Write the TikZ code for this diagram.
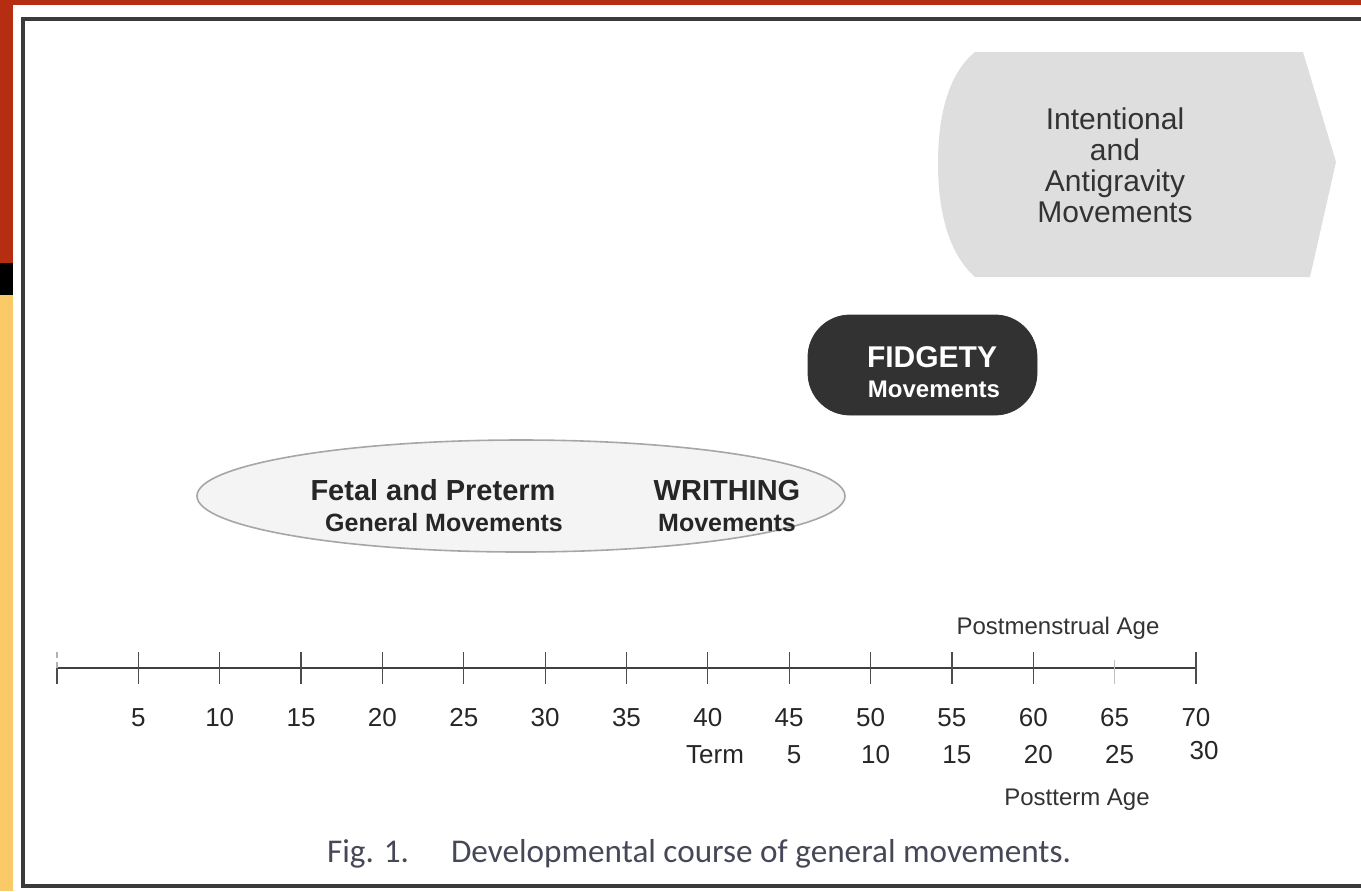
\documentclass[tikz,border=0pt]{standalone}
\usepackage{fontspec}
\setmainfont{Liberation Sans}
\newfontfamily\capfont{Carlito}
\usetikzlibrary{shapes.geometric,positioning}

\definecolor{slidered}{RGB}{181,46,18}
\definecolor{slideyellow}{RGB}{250,202,104}
\definecolor{framegray}{RGB}{58,58,58}
\definecolor{capgray}{RGB}{70,72,88}
\definecolor{stipple}{RGB}{222,222,222}
\definecolor{palestipple}{RGB}{244,244,244}
\definecolor{darkpill}{RGB}{50,50,50}

\begin{document}
\begin{tikzpicture}[
  x=0.5pt, y=-0.5pt,
  phase/.style={draw=gray!70, line width=0.8pt, fill=palestipple, ellipse, inner sep=0pt, minimum width=324pt, minimum height=56pt},
  pill/.style={fill=darkpill, draw=darkpill, rounded corners=21pt, inner sep=0pt, minimum width=114.5pt, minimum height=50pt},
  pilltxt/.style={text=white, anchor=base, font=\bfseries\fontsize{15}{15}\selectfont},
  bigtxt/.style={font=\bfseries\fontsize{14.5}{15}\selectfont, text=black!85, anchor=base},
  subtxt/.style={font=\bfseries\fontsize{12.5}{13}\selectfont, text=black!85, anchor=base},
  num/.style={font=\fontsize{13}{13}\selectfont, text=black!85, anchor=base},
  axlabel/.style={font=\fontsize{12}{12}\selectfont, text=black!80, anchor=base},
  captxt/.style={anchor=base west, font=\capfont\fontsize{16.6}{17}\selectfont, text=capgray},
  axisline/.style={draw=black!75, line width=0.8pt},
  tick/.style={draw=black!70, line width=0.6pt}
]
\useasboundingbox (0,0) rectangle (1361,891);

% slide background and frame
\fill[slidered] (0,0) rectangle (1361,5);
\fill[slidered] (0,0) rectangle (13,263);
\fill[black] (0,263) rectangle (13,295);
\fill[slideyellow] (0,295) rectangle (13,891);
\draw[framegray, line width=2pt] (1361,19) -- (23,19) -- (23,886) -- (1361,886);

% intentional movements
\fill[stipple] (975,52) -- (1303,52) -- (1336,162) -- (1310,277) -- (975,277)
  .. controls (950,255) and (938,215) .. (938,163)
  .. controls (938,112) and (950,72) .. (975,52) -- cycle;
\node[align=center, font=\fontsize{15}{15.5}\selectfont, text=black!80] (intent) at (1115,165)
  {Intentional\\and\\Antigravity\\Movements};

% fidgety movements
\node[pill] (fidgety) at (922.5,365) {};
\node[pilltxt] (fidgtitle) at (932,367) {FIDGETY};
\node[pilltxt, font=\bfseries\fontsize{12}{12}\selectfont] (fidgsub) at (934,397) {Movements};

% general movements before term
\node[phase] (gm) at (521,496) {};
\node[bigtxt] (fetal) at (433,500) {Fetal and Preterm};
\node[subtxt] (general) at (444,531) {General Movements};
\node[bigtxt] (writhing) at (727,500) {WRITHING};
\node[subtxt] (writhmov) at (727,531) {Movements};

% age axis
\coordinate (ax0) at (57,668);
\coordinate (ax70) at (1196,668);
\draw[axisline] (ax0) -- (ax70);
\draw[tick] (ax0) -- ++(0,16);
\draw[tick, densely dashed, draw=black!30] (ax0) -- ++(0,-16);
\foreach \v in {5,10,...,60,70}
  \draw[tick] ({57+\v*16.271},652) -- ({57+\v*16.271},684);
\draw[tick, draw=black!25] (1114.6,660) -- (1114.6,684);
\foreach \v in {5,10,...,70}
  \node[num] (pm\v) at ({57+\v*16.271},726) {\v};
\node[num] (term) at (715,763) {Term};
\foreach \v/\w in {45/5,50/10,55/15,60/20,65/25}
  \node[num] (pt\w) at ({62+\v*16.271},763) {\w};
\node[num] (pt30) at (1204,759) {30};
\node[axlabel] (pmage) at (1058,634) {Postmenstrual Age};
\node[axlabel] (ptage) at (1077,805) {Postterm Age};

% caption
\node[captxt] (fig) at (320,862) {Fig. 1.};
\node[captxt] (caption) at (444,862) {Developmental course of general movements.};
\end{tikzpicture}
\end{document}
